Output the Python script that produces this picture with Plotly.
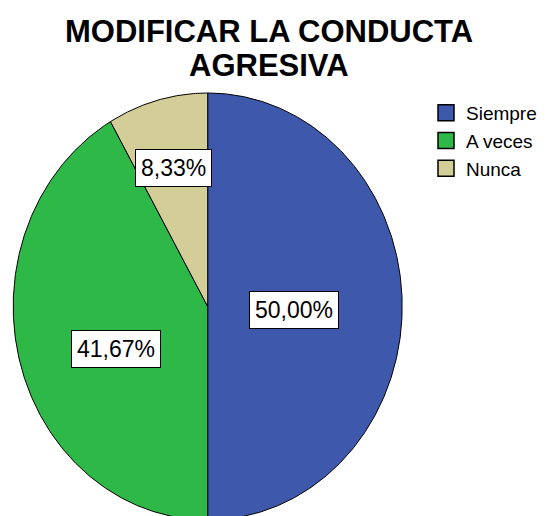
import numpy as np
import plotly.graph_objects as go

# ---- data ----
categories = ["Siempre", "A veces", "Nunca"]
percentages = [50.00, 41.67, 8.33]
title_lines = ["MODIFICAR LA CONDUCTA", "AGRESIVA"]

# ---- style ----
colors = ["#3E58AC", "#2EB848", "#D3CE97"]
label_radius = [0.445, 0.51, 0.67]   # relative radial position of the % boxes
label_angle_shift = [2.0, -8.0, 0.0]  # small angular tweaks (degrees)

fig = go.Figure()

total = sum(percentages)
start = 0.0
mids = []
for cat, val, col in zip(categories, percentages, colors):
    span = 360.0 * val / total
    n = max(int(span * 2), 4)
    th = np.radians(np.linspace(start, start + span, n))
    xs = np.concatenate([[0.0], np.sin(th), [0.0]])
    ys = np.concatenate([[0.0], np.cos(th), [0.0]])
    fig.add_trace(go.Scatter(
        x=xs, y=ys, mode="lines", fill="toself", fillcolor=col,
        line=dict(color="black", width=1), showlegend=False,
        hoverinfo="skip", name=cat))
    mids.append(start + span / 2)
    start += span

# legend entries
for cat, col in zip(categories, colors):
    fig.add_trace(go.Scatter(
        x=[None], y=[None], mode="markers", name=cat,
        marker=dict(symbol="square", size=20, color=col,
                    line=dict(color="black", width=1.5))))

# percentage labels
for val, mid, r, sh in zip(percentages, mids, label_radius, label_angle_shift):
    a = np.radians(mid + sh)
    txt = f"{val:.2f}".replace(".", ",") + "%"
    fig.add_annotation(
        x=r * np.sin(a), y=r * np.cos(a), xref="x", yref="y",
        text=txt, showarrow=False,
        font=dict(family="Liberation Sans Narrow, Arial Narrow, Liberation Sans, Arial",
                  size=23, color="black"),
        bgcolor="white", bordercolor="black", borderwidth=1, borderpad=5)

# the page body adds an 8px offset, so the figure is 8px smaller each way
OFF = 8
W, H = 547 - OFF, 516 - OFF
# title (two lines, SPSS-like tight spacing)
for line, yc in zip(title_lines, [31.5, 65.5]):
    fig.add_annotation(
        x=(269 - OFF) / W, y=1 - (yc - OFF) / H, xref="paper", yref="paper",
        xanchor="center", yanchor="middle", showarrow=False, text=line,
        font=dict(family="Liberation Sans, Arial", size=31, color="black",
                  weight="bold"))

# pixel geometry of the ellipse (page coords): centre (207.7, 306.5), rx 194.5, ry 213.5
cx, cy, rx, ry = 207.7 - OFF, 306.5 - OFF, 194.5, 213.5
fig.update_layout(
    width=W, height=H,
    margin=dict(l=0, r=0, t=0, b=0, autoexpand=False),
    paper_bgcolor="white", plot_bgcolor="white",
    xaxis=dict(range=[-cx / rx, (W - cx) / rx], visible=False, fixedrange=True),
    yaxis=dict(range=[-(H - cy) / ry, cy / ry], visible=False, fixedrange=True),
    legend=dict(x=(426 - OFF) / W, xanchor="left", y=1 - (94 - OFF) / H, yanchor="top",
                font=dict(family="Liberation Sans, Arial", size=19, color="black"),
                bgcolor="rgba(0,0,0,0)", itemsizing="trace"),
    showlegend=True,
)

fig.write_html("out.html")
